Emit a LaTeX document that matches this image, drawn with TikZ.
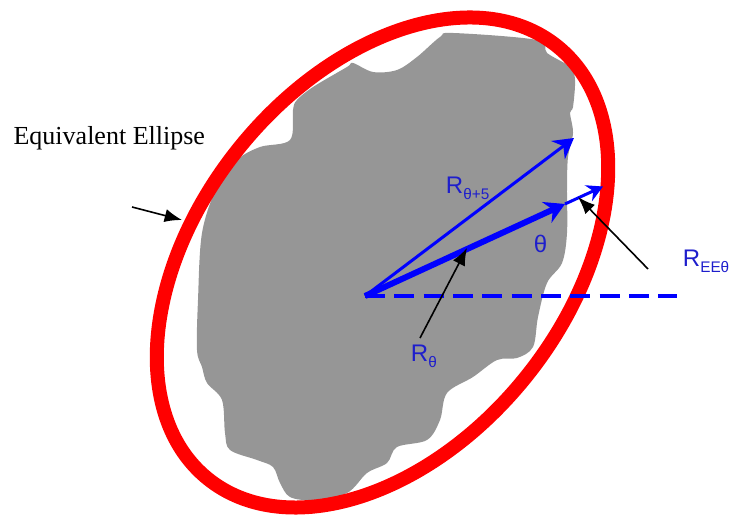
\documentclass[tikz,border=0pt]{standalone}
\usepackage{fontspec}
\setmainfont{Liberation Serif}
\newfontfamily\eqsans{Liberation Sans}
\usepackage{tikz}
\usetikzlibrary{arrows.meta}
\definecolor{eqred}{HTML}{FF0000}
\definecolor{eqgray}{HTML}{969696}
\definecolor{eqblue}{HTML}{0000FF}
\definecolor{eqlbl}{HTML}{1E1ECC}
\newcommand{\eqsub}[1]{\raisebox{-0.45ex}{\fontsize{11.5}{12}\selectfont #1}}
\tikzset{
  eqring/.style={draw=eqred, line width=10.5pt},
  eqgrain/.style={fill=eqgray, draw=none},
  eqvec/.style={draw=eqblue, line width=2.25pt, -{Stealth[length=15pt,width=17pt,inset=5pt]}},
  eqvecthick/.style={eqvec, line width=4.5pt},
  eqvecsmall/.style={draw=eqblue, line width=2.25pt, -{Stealth[length=12pt,width=13pt,inset=4pt]}},
  eqbase/.style={draw=eqblue, line width=3pt, dash pattern=on 15pt off 7pt},
  eqptr/.style={draw=black, line width=1.2pt, -{Latex[length=13pt,width=10pt]}},
  eqlabel/.style={text=eqlbl, font=\eqsans\fontsize{18}{20}\selectfont, inner sep=0.5pt, anchor=base west},
  eqnote/.style={font=\fontsize{19.5}{22}\selectfont, inner sep=1pt, anchor=base west}
}

\begin{document}
\begin{tikzpicture}[x=0.75pt,y=0.75pt]
  \useasboundingbox (0,0) rectangle (731,520);
  % particle outline
  \fill[eqgrain] plot[smooth cycle, tension=0.55] coordinates {
    (453,487) (537,480) (547,467) (570,453) (575,440) (573,413) (570,407)
    (573,387) (568,363) (567,333) (567,287) (562,257) (547,237) (538,203)
    (533,173) (517,162) (497,160) (473,143) (447,127) (440,100) (427,80)
    (397,73) (387,57) (367,47) (347,27) (313,20) (290,23) (280,37) (273,53)
    (257,60) (230,70) (225,87) (222,120) (207,137) (202,153) (197,170)
    (198,220) (202,287) (217,333) (237,360) (260,373) (290,380) (293,410)
    (297,420) (313,433) (347,453) (353,457) (373,448) (397,450) (417,463)
    (440,483)};
  % equivalent ellipse
  \draw[eqring] (382.5,257.5) ellipse [x radius=278, y radius=183.5, rotate=51];
  % vectors
  \coordinate (o) at (365,224);
  \coordinate (base) at (677,224);
  \coordinate (rfive) at (574,382);
  \coordinate (rth) at (565,316);
  \coordinate (ree) at (603,333.5);
  \draw[eqbase] (o) -- (base);
  \draw[eqvec] (o) -- (rfive);
  \draw[eqvecthick] (o) -- (rth);
  \draw[eqvecsmall] (rth) -- (ree);
  % labels
  \node[eqnote] (eqname) at (12,375) {Equivalent Ellipse};
  \node[eqlabel] (lfive) at (445,326) {R\eqsub{θ+5}};
  \node[eqlabel] (ltheta) at (533,267) {θ};
  \node[eqlabel] (lrth) at (410,158) {R\eqsub{θ}};
  \node[eqlabel] (lree) at (682,253) {R\eqsub{EEθ}};
  % pointers
  \coordinate (eqtail) at (132,313);
  \coordinate (eqtip) at (182,300);
  \coordinate (rthtail) at (420,182);
  \coordinate (rthtip) at (467,272);
  \coordinate (reetail) at (648,251);
  \coordinate (reetip) at (578,323);
  \draw[eqptr] (eqtail) -- (eqtip);
  \draw[eqptr] (rthtail) -- (rthtip);
  \draw[eqptr] (reetail) -- (reetip);
\end{tikzpicture}
\end{document}
